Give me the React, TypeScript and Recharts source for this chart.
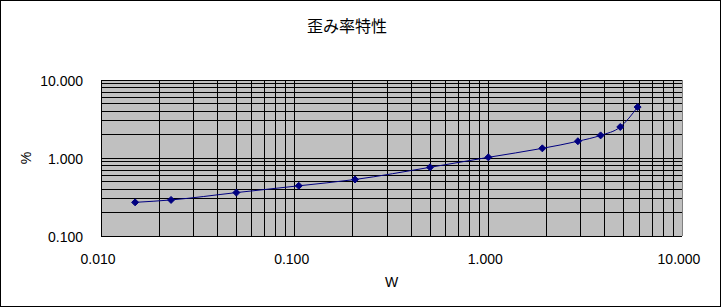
import { LineChart, Line, XAxis, YAxis, CartesianGrid, ReferenceLine, Label } from "recharts";

// 出力 (W) と 歪み率 (%)
const watts = [0.015, 0.023, 0.05, 0.105, 0.205, 0.5, 1.0, 1.9, 2.9, 3.8, 4.8, 5.9];
const distortion = [0.27, 0.29, 0.36, 0.44, 0.53, 0.76, 1.02, 1.33, 1.64, 1.95, 2.5, 4.5];

const xTicks = [0.01, 0.1, 1, 10];
const yTicks = [0.1, 1, 10];

// log grid lines (0.01 is the axis line, 10 is the grey plot border)
const xGrid = [
  0.02, 0.03, 0.04, 0.05, 0.06, 0.07, 0.08, 0.09,
  0.1, 0.2, 0.3, 0.4, 0.5, 0.6, 0.7, 0.8, 0.9,
  1, 2, 3, 4, 5, 6, 7, 8, 9,
];
const yGrid = [
  0.2, 0.3, 0.4, 0.5, 0.6, 0.7, 0.8, 0.9,
  1, 2, 3, 4, 5, 6, 7, 8, 9, 10,
];

const data = watts.map((w, i) => ({ w, d: distortion[i] }));

const FONT = "'Liberation Sans', Arial, sans-serif";
const NAVY = "#000080";

const Diamond = (props: any) => {
  const { cx, cy } = props;
  if (cx == null || cy == null) return null;
  const r = 3.5;
  return (
    <polygon
      points={`${cx},${cy - r} ${cx + r},${cy} ${cx},${cy + r} ${cx - r},${cy}`}
      fill={NAVY}
      stroke={NAVY}
      strokeWidth={1}
    />
  );
};

export default function App() {
  return (
    <div style={{ position: "absolute", left: 0, top: 0, width: 722, height: 308, background: "#fff" }}>
      <div
        style={{
          position: "absolute",
          left: 0,
          top: 0,
          width: 721,
          height: 307,
          boxSizing: "border-box",
          border: "1px solid #000",
        }}
      />
      <div
        style={{
          position: "absolute",
          left: 247,
          top: 17,
          width: 200,
          textAlign: "center",
          fontFamily: "'Noto Sans CJK JP', sans-serif",
          fontSize: 16,
          lineHeight: "16px",
          color: "#000",
        }}
      >
        歪み率特性
      </div>
      <LineChart
        width={722}
        height={308}
        data={data}
        margin={{ top: 80, right: 40, bottom: 22, left: 30 }}
      >
        <CartesianGrid fill="#c0c0c0" horizontal={false} vertical={false} />
        {xGrid.map((v) => (
          <ReferenceLine key={`x${v}`} x={v} stroke="#000" strokeWidth={1} shapeRendering="crispEdges" />
        ))}
        {yGrid.map((v) => (
          <ReferenceLine key={`y${v}`} y={v} stroke="#000" strokeWidth={1} shapeRendering="crispEdges" />
        ))}
        <ReferenceLine x={10} stroke="#808080" strokeWidth={1} shapeRendering="crispEdges" />
        <XAxis
          dataKey="w"
          type="number"
          scale="log"
          domain={[0.01, 10]}
          allowDataOverflow
          ticks={xTicks}
          tickFormatter={(v: number) => v.toFixed(3)}
          tickLine={false}
          tickSize={0}
          tickMargin={18}
          height={50}
          axisLine={{ stroke: "#000", shapeRendering: "crispEdges" }}
          tick={{ fill: "#000", fontSize: 14, fontFamily: FONT, dx: -3 }}
        >
          <Label value="W" position="insideBottom" offset={-1} fill="#000" fontSize={14} fontFamily={FONT} />
        </XAxis>
        <YAxis
          type="number"
          scale="log"
          domain={[0.1, 10]}
          allowDataOverflow
          ticks={yTicks}
          tickFormatter={(v: number) => v.toFixed(3)}
          tickLine={false}
          tickSize={0}
          tickMargin={18}
          width={71}
          axisLine={{ stroke: "#000", shapeRendering: "crispEdges" }}
          tick={{ fill: "#000", fontSize: 14, fontFamily: FONT, dy: 1 }}
        >
          <Label
            value="%"
            angle={-90}
            position="insideLeft"
            offset={-4}
            fill="#000"
            fontSize={14}
            fontFamily={FONT}
            style={{ textAnchor: "middle" }}
          />
        </YAxis>
        <Line
          type="monotone"
          dataKey="d"
          stroke={NAVY}
          strokeWidth={1}
          dot={<Diamond />}
          activeDot={false}
          isAnimationActive={false}
        />
      </LineChart>
    </div>
  );
}
